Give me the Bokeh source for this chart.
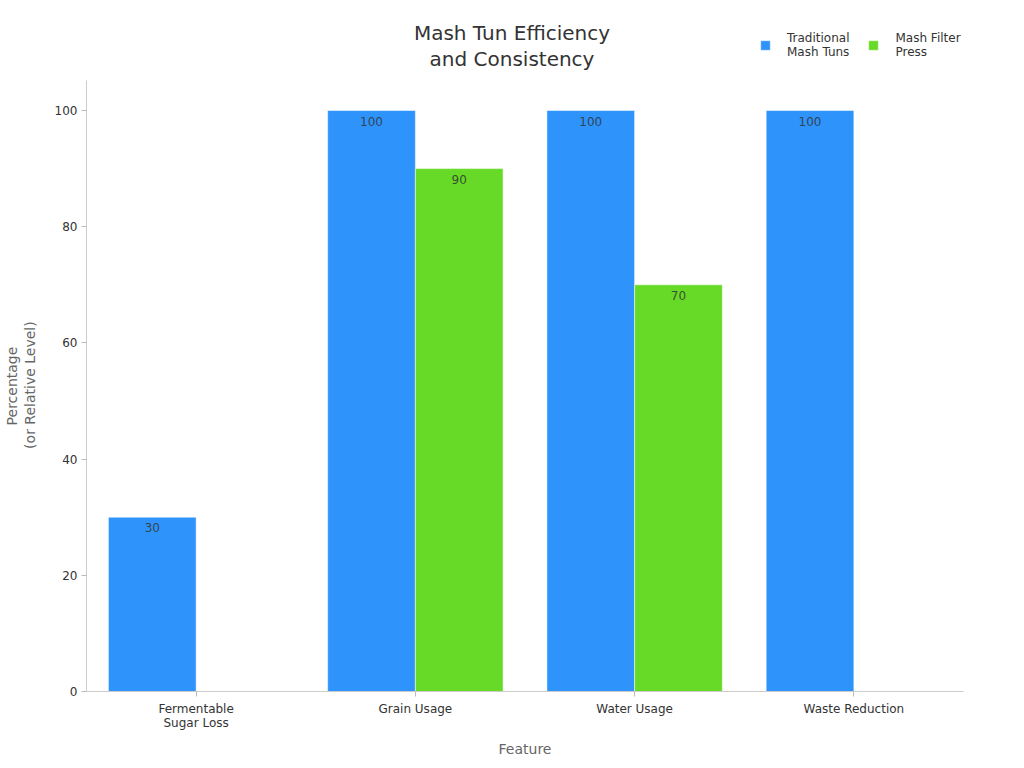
import math
from bokeh.plotting import figure
from bokeh.models import ColumnDataSource, FactorRange, Range1d, Label, Legend, LegendItem, Title
from bokeh.transform import dodge
from bokeh.core.properties import value
from bokeh.embed import file_html
from bokeh.resources import INLINE

categories = ["Fermentable\nSugar Loss", "Grain Usage", "Water Usage", "Waste Reduction"]
traditional = [30, 100, 100, 100]
filter_press = [float("nan"), 90, 70, float("nan")]
series_names = ["Traditional\nMash Tuns", "Mash Filter\nPress"]
colors = ["#2E93FA", "#66DA26"]
y_ticks = [0, 20, 40, 60, 80, 100]
title_lines = ["Mash Tun Efficiency", "and Consistency"]
y_label_lines = ["Percentage", "(or Relative Level)"]
x_label = "Feature"

FONT = "DejaVu Sans"
Y_AXIS_TOP = 105.2          # visible extent of the value axis
PX_PER_UNIT = 5.81
FRAME_H = 691
Y_END = FRAME_H / PX_PER_UNIT  # frame extends to the top of the canvas so header texts are not clipped

p = figure(width=1024, height=768, x_range=FactorRange(*categories), y_range=Range1d(0, Y_END),
           output_backend="svg", toolbar_location=None,
           min_border_left=86, min_border_right=61, min_border_top=0, min_border_bottom=77)
p.outline_line_color = None
p.xgrid.grid_line_color = None
p.ygrid.grid_line_color = None
p.x_range.range_padding = 0

src = ColumnDataSource(dict(cat=categories, trad=traditional, press=filter_press))
r1 = p.vbar(x=dodge("cat", -0.2, range=p.x_range), top="trad", width=0.4, source=src,
            fill_color=colors[0], line_color="white", line_alpha=0.5, line_width=1)
r2 = p.vbar(x=dodge("cat", 0.2, range=p.x_range), top="press", width=0.4, source=src,
            fill_color=colors[1], line_color="white", line_alpha=0.5, line_width=1)

for vals, off in ((traditional, -0.2), (filter_press, 0.2)):
    cats = [c for c, v in zip(categories, vals) if not (isinstance(v, float) and math.isnan(v))]
    vs = [v for v in vals if not (isinstance(v, float) and math.isnan(v))]
    ls = ColumnDataSource(dict(cat=cats, v=vs, t=[str(int(v)) for v in vs]))
    p.text(x=dodge("cat", off, range=p.x_range), y="v", text="t", source=ls,
           text_align="center", text_baseline="middle", y_offset=10.5,
           text_font=value(FONT), text_font_size="12px", text_color="#333333", text_alpha=0.85)

for ax in (p.xaxis[0], p.yaxis[0]):
    ax.axis_line_color = "#cccccc"
    ax.major_tick_line_color = "#bbbbbb"
    ax.minor_tick_line_color = None
    ax.major_tick_out = 5
    ax.major_tick_in = 0
    ax.major_label_text_font = FONT
    ax.major_label_text_font_size = "12px"
    ax.major_label_text_color = "#333333"
    ax.axis_label_text_font = FONT
    ax.axis_label_text_font_size = "14px"
    ax.axis_label_text_font_style = "normal"
    ax.axis_label_text_color = "#666666"

p.yaxis.bounds = (0, Y_AXIS_TOP)
p.yaxis.ticker = y_ticks
p.yaxis.axis_label = " "        # spacer between tick labels and the axis title
p.yaxis.axis_label_text_font_size = "10px"
p.yaxis.axis_label_standoff = 0
p.yaxis.major_label_standoff = 4
p.xaxis.axis_label = x_label
p.xaxis.major_label_standoff = 5
p.xaxis.major_label_text_line_height = 1.05
p.xaxis.axis_label_standoff = 8

# two-line value-axis title, centred on the visible axis extent
y_center_from_bottom = Y_AXIS_TOP / 2 * PX_PER_UNIT
for line, est_w in ((y_label_lines[1], 126), (y_label_lines[0], 79)):
    p.add_layout(Title(text=line, align="left", offset=y_center_from_bottom - est_w / 2, standoff=0,
                       text_font=FONT, text_font_size="14px", text_font_style="normal",
                       text_color="#666666"), "left")

for i, line in enumerate(title_lines):
    p.add_layout(Label(x=425.5, y=FRAME_H - 32 - 26 * i, x_units="screen", y_units="screen",
                       text=line, text_align="center", text_baseline="middle",
                       text_font=FONT, text_font_size="20px", text_color="#333333"))

legend = Legend(items=[LegendItem(label=series_names[0], renderers=[r1]),
                       LegendItem(label=series_names[1], renderers=[r2])],
                orientation="horizontal", location=(673, FRAME_H - 59), padding=0, margin=0, spacing=18,
                glyph_width=12, glyph_height=12, label_standoff=16,
                label_text_font=FONT, label_text_font_size="12px", label_text_color="#333333",
                border_line_color=None, background_fill_alpha=0)
p.add_layout(legend)

open("out.html", "w").write(file_html(p, INLINE))
